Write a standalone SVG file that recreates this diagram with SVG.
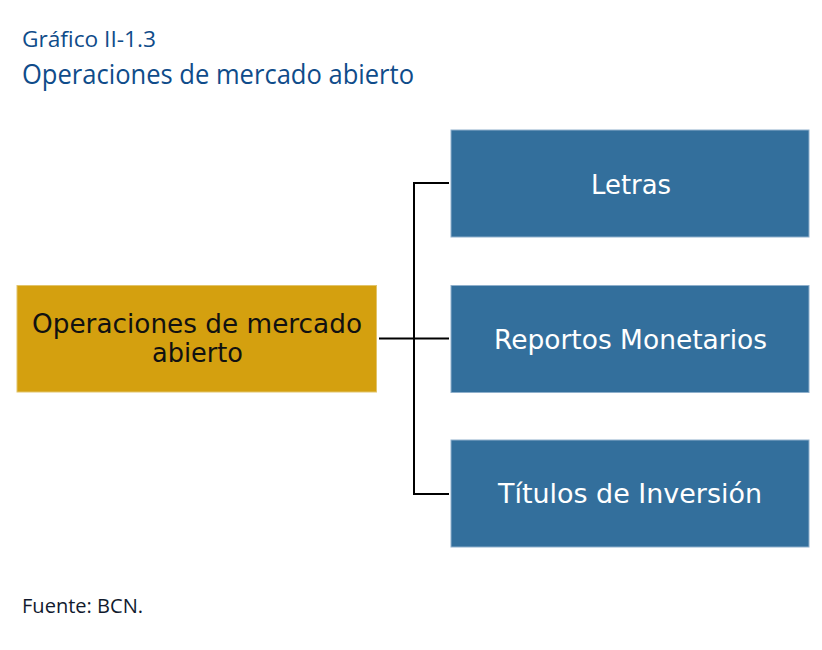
<svg xmlns="http://www.w3.org/2000/svg" width="822" height="650" viewBox="0 0 822 650">
<style>
.hdr{font-family:"Open Sans","DejaVu Sans",sans-serif;fill:#0f4c8a}
.box{fill:#336f9c;stroke:#8fb0cc;stroke-width:1}
.main{fill:#d4a00f;stroke:#e2c46a;stroke-width:1}
.lbl{font-family:"DejaVu Sans",sans-serif;font-size:26px;text-anchor:middle}
.w{fill:#ffffff}
.k{fill:#111111}
.ln{stroke:#000000;stroke-width:2;fill:none}
</style>
<rect width="822" height="650" fill="#ffffff"/>
<text class="hdr" x="22" y="47" font-size="22" textLength="134" lengthAdjust="spacingAndGlyphs">Gráfico II-1.3</text>
<text class="hdr" x="22" y="84" font-size="27" font-weight="500" textLength="392" lengthAdjust="spacingAndGlyphs">Operaciones de mercado abierto</text>
<g id="connectors">
<line class="ln" x1="379" y1="338.5" x2="414" y2="338.5" stroke-width="3"/>
<line class="ln" x1="414" y1="183" x2="414" y2="494"/>
<line class="ln" x1="413" y1="183" x2="449" y2="183"/>
<line class="ln" x1="414" y1="338.5" x2="449" y2="338.5"/>
<line class="ln" x1="413" y1="494" x2="449" y2="494"/>
</g>
<g id="main">
<rect class="main" x="17" y="285.5" width="359.5" height="106.5"/>
<text class="lbl k" x="197" y="333" textLength="330" lengthAdjust="spacingAndGlyphs">Operaciones de mercado</text>
<text class="lbl k" x="197.5" y="362" textLength="91" lengthAdjust="spacingAndGlyphs">abierto</text>
</g>
<g id="letras">
<rect class="box" x="451" y="130" width="358" height="107"/>
<text class="lbl w" x="631" y="194" textLength="80" lengthAdjust="spacingAndGlyphs">Letras</text>
</g>
<g id="reportos">
<rect class="box" x="451" y="285.5" width="358" height="107"/>
<text class="lbl w" x="630.5" y="349" textLength="273" lengthAdjust="spacingAndGlyphs">Reportos Monetarios</text>
</g>
<g id="titulos">
<rect class="box" x="451" y="440" width="358" height="107"/>
<text class="lbl w" x="630" y="503" textLength="264" lengthAdjust="spacingAndGlyphs">Títulos de Inversión</text>
</g>
<text class="hdr" x="22" y="613" font-size="20" style="fill:#111a2e" textLength="121" lengthAdjust="spacingAndGlyphs">Fuente: BCN.</text>
</svg>
